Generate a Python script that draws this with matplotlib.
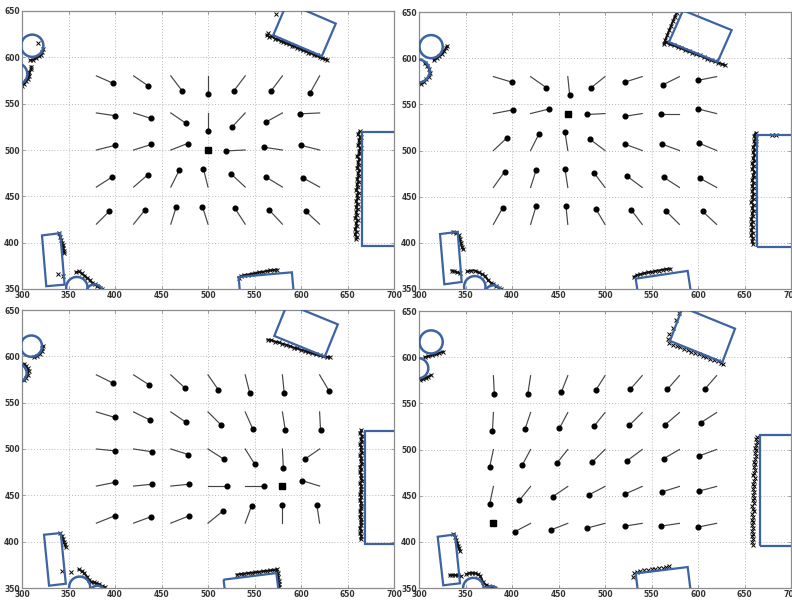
import matplotlib
matplotlib.use("Agg")
import matplotlib.pyplot as plt
from matplotlib.patches import Polygon, Circle

# ---------------------------------------------------------------- data
GRID_X = [380, 420, 460, 500, 540, 580, 620]
GRID_Y = [580, 540, 500, 460, 420]
X_TICKS = [300, 350, 400, 450, 500, 550, 600, 650, 700]
Y_TICKS = [350, 400, 450, 500, 550, 600, 650]

# goal position of each run
TARGET_A = (500, 500)
TARGET_B = (460, 540)
TARGET_C = (580, 460)
TARGET_D = (380, 420)

# particle end positions, one row per GRID_Y, one column per GRID_X
DOT_X_A = [[398, 436, 472, 500, 528, 568, 610],
           [400, 439, 476, 500, 526, 562, 599],
           [400, 439, 478, None, 519, 560, 600],
           [397, 435, 469, 495, 525, 562, 602],
           [394, 432, 466, 494, 529, 566, 605]]
DOT_Y_A = [[572, 569, 564, 560, 564, 564, 562],
           [537, 534, 529, 520, 525, 530, 539],
           [505, 506, 507, None, 499, 503, 505],
           [471, 473, 478, 480, 474, 471, 470],
           [434, 435, 439, 439, 437, 435, 434]]

DOT_X_B = [[400, 437, 462, 485, 521, 562, 600],
           [401, 440, None, 481, 521, 560, 600],
           [395, 429, 457, 484, 521, 561, 601],
           [392, 426, 457, 488, 524, 563, 602],
           [390, 426, 458, 490, 528, 566, 605]]
DOT_Y_B = [[574, 568, 560, 568, 574, 571, 576],
           [544, 545, None, 539, 537, 540, 545],
           [514, 518, 520, 512, 507, 507, 508],
           [477, 479, 480, 476, 472, 471, 470],
           [438, 440, 440, 437, 436, 434, 434]]

DOT_X_C = [[398, 437, 475, 511, 545, 582, 630],
           [400, 438, 476, 514, 548, 583, 621],
           [400, 440, 479, 517, 550, 581, 604],
           [400, 440, 480, 520, 560, None, 601],
           [400, 439, 480, 516, 547, 580, 617]]
DOT_Y_C = [[571, 569, 566, 564, 560, 560, 563],
           [534, 531, 529, 526, 522, 521, 521],
           [498, 497, 494, 489, 484, 480, 489],
           [464, 462, 462, 460, 460, None, 466],
           [428, 427, 428, 433, 439, 440, 440]]

DOT_X_D = [[381, 417, 453, 490, 527, 567, 607],
           [379, 414, 451, 488, 526, 565, 603],
           [376, 411, 448, 486, 524, 563, 601],
           [376, 408, 444, 483, 522, 561, 601],
           [None, 403, 442, 481, 521, 560, 600]]
DOT_Y_D = [[560, 560, 562, 564, 565, 565, 565],
           [520, 522, 523, 525, 526, 527, 529],
           [481, 483, 485, 486, 488, 490, 493],
           [441, 445, 449, 451, 452, 454, 455],
           [None, 411, 413, 415, 417, 417, 416]]

# obstacles: polygons (corner lists) and circles (x, y, r)
RECTS_A = [[(321.5, 407.8), (341.1, 410.3), (345.8, 354.7), (326.1, 353.0)],
           [(570.1, 623.8), (585.1, 658.9), (637.4, 636.4), (622.4, 601.3)],
           [(665.3, 396.0), (665.3, 519.8), (720.0, 519.8), (720.0, 396.0)],
           [(532.9, 363.0), (590.2, 368.0), (594.0, 325.0), (536.7, 320.0)]]
CIRCLES_A = [(311, 612.5, 12), (294, 582, 11.7), (359, 351.5, 11.5), (378, 346, 9)]

RECTS_B = [[(322.6, 409.5), (341.6, 411.9), (345.9, 357.6), (327.2, 355.1)],
           [(568.8, 617.4), (583.9, 651.8), (636.2, 630.4), (621.1, 596.0)],
           [(663.1, 395.7), (663.1, 516.3), (720.0, 516.3), (720.0, 395.7)],
           [(533.0, 361.2), (588.9, 369.6), (595.5, 325.6), (539.6, 317.2)]]
CIRCLES_B = [(313, 612.5, 12.5), (299, 586, 12.5), (360, 352.5, 11.5), (380, 345, 9)]

RECTS_C = [[(323.7, 407.5), (341.7, 409.3), (347.1, 354.6), (329.1, 352.5)],
           [(571.3, 622.0), (585.3, 656.8), (639.6, 634.5), (625.6, 599.7)],
           [(668.7, 397.8), (668.7, 519.6), (720.0, 519.6), (720.0, 397.8)],
           [(516.7, 359.0), (573.5, 366.1), (578.0, 330.1), (521.2, 323.0)]]
CIRCLES_C = [(310, 611, 11.5), (295, 582, 10), (362, 351, 11.3), (381, 344, 8.5)]

RECTS_D = [[(320.1, 405.5), (338.7, 408.0), (344.1, 355.1), (326.1, 352.9)],
           [(569.9, 617.6), (583.5, 653.9), (639.8, 630.9), (626.2, 594.6)],
           [(666.7, 395.3), (666.7, 515.8), (720.0, 515.8), (720.0, 395.3)],
           [(533.0, 365.8), (588.9, 372.7), (594.2, 329.7), (538.3, 322.8)]]
CIRCLES_D = [(313, 616.5, 12.5), (299, 588, 11), (358.4, 350, 11), (378, 344, 8)]

# laser returns
SCAN_A_WALL = [(663, 520), (661, 517), (664, 514), (662, 511), (663, 508), (661, 505), (664, 502),
               (662, 499), (663, 496), (660, 493), (663, 490), (661, 487), (662, 484), (660, 481),
               (663, 478), (661, 475), (662, 472), (660, 469), (662, 466), (660, 463), (661, 460),
               (659, 457), (662, 454), (660, 451), (661, 448), (659, 445), (661, 442), (659, 439),
               (661, 436), (659, 433), (660, 430), (658, 427), (661, 424), (659, 421), (660, 418),
               (658, 415), (660, 412), (658, 409), (660, 406), (659, 404)]
SCAN_A_TOP = [(563, 624), (566, 622), (569, 622.5), (572, 620), (575, 619.5), (578, 617.5),
              (581, 617), (584, 615), (587, 614.5), (590, 612.5), (593, 612), (596, 610),
              (599, 609.5), (602, 607.5), (605, 607), (608, 605), (611, 604.5), (614, 602.5),
              (617, 602), (620, 600), (623, 599.5), (626, 598), (628, 597.5)]
SCAN_A_C1 = [(309, 597), (312, 597.5), (315, 599), (318, 601), (320, 603), (322, 606), (323, 609)]
SCAN_A_C2 = [(310, 590), (310, 587), (308, 584), (308, 580), (306, 577), (304, 574), (302, 571), (300, 569)]
SCAN_A_BOX = [(340, 410), (341, 406), (342, 403), (343, 400), (344, 397), (344.5, 394), (345, 391), (345.5, 389)]
SCAN_A_LOW = [(358, 368), (361, 369), (364, 367), (367, 364.5), (370, 362), (373, 359.5), (375, 357),
              (378, 355), (381, 353), (384, 351), (386, 349.5)]
SCAN_A_BOT = [(533, 362), (536, 364), (539, 365), (543, 365.5), (547, 366.5), (551, 367), (555, 368),
              (559, 368.5), (563, 369.5), (567, 370), (571, 370.5), (574, 371)]
SCAN_A_LONE = [(573, 647), (565, 626.5), (317, 616), (338.6, 366), (344, 364.5)]

SCAN_B_WALL = [(662, 519), (660, 516), (662, 513), (660, 510), (662, 507), (659, 504), (661, 501),
               (659, 498), (661, 495), (659, 492), (661, 489), (658, 486), (660, 483), (658, 480),
               (661, 477), (659, 474), (660, 471), (658, 468), (660, 465), (658, 462), (660, 459),
               (658, 456), (660, 453), (658, 450), (660, 447), (657, 444), (660, 441), (658, 438),
               (660, 435), (658, 432), (659, 429), (657, 426), (659, 423), (657, 420), (659, 417),
               (657, 414), (659, 411), (657, 408), (659, 405), (658, 402), (659, 399)]
SCAN_B_TOP = [(577, 649), (575, 645), (573, 640), (571, 635), (569, 630), (567, 625), (565, 620),
              (563, 615), (566, 617), (570, 615), (574, 614), (578, 612), (582, 611), (586, 609),
              (590, 607.5), (594, 606), (598, 604.5), (602, 603), (606, 601), (610, 599.5),
              (614, 598), (618, 596.5), (622, 595), (626, 593.5), (629, 592.5)]
SCAN_B_C1 = [(316, 598), (319, 600), (322, 602.5), (325, 605), (327, 608), (329, 611), (330, 613)]
SCAN_B_C2 = [(306, 595), (309, 592), (311, 588), (312, 584), (311, 580), (308, 577), (305, 574), (302, 572)]
SCAN_B_BOX = [(337, 412), (340, 411), (343, 408), (344, 404), (345, 400), (346, 396), (347.5, 393)]
SCAN_B_BOX2 = [(335, 370), (338, 369), (341, 368), (344, 367)]
SCAN_B_LOW = [(352, 369), (356, 370), (360, 370), (364, 368), (368, 366), (371, 364), (374, 360),
              (377, 357), (380, 355), (383, 353), (386, 351), (388, 350)]
SCAN_B_BOT = [(531, 363), (534, 365), (538, 366), (542, 367), (546, 368), (550, 368.5), (554, 369.5),
              (558, 370), (562, 371), (566, 371.5), (570, 372)]
SCAN_B_LONE = [(680, 517), (684, 517)]

SCAN_C_WALL = [(665, 520), (663, 517), (666, 514), (664, 511), (666, 508), (663, 505), (665, 502),
               (664, 499), (666, 496), (663, 493), (665, 490), (664, 487), (666, 484), (663, 481),
               (665, 478), (663, 475), (665, 472), (664, 469), (666, 466), (663, 463), (665, 460),
               (664, 457), (665, 454), (663, 451), (665, 448), (663, 445), (665, 442), (664, 439),
               (665, 436), (663, 433), (665, 430), (663, 427), (665, 424), (664, 421), (665, 418),
               (663, 415), (665, 412), (663, 409), (665, 406), (664, 403)]
SCAN_C_TOP = [(564, 618), (568, 617.5), (572, 616), (576, 615), (580, 613.5), (584, 612.5),
              (588, 611), (592, 609.5), (596, 608.5), (600, 607), (604, 606), (608, 604.5),
              (612, 603.5), (616, 602), (620, 601), (624, 600), (628, 599.5), (631, 599)]
SCAN_C_C1 = [(313, 599), (316, 600.5), (319, 603), (321, 606), (322, 609), (323, 611)]
SCAN_C_C2 = [(302, 592), (304, 590), (306, 587), (307, 584), (306, 580), (304, 577), (302, 574)]
SCAN_C_BOX = [(341, 409), (343, 406), (344, 403), (345, 400), (346, 397), (347, 394)]
SCAN_C_LOW = [(361, 370), (364, 368.5), (367, 366), (370, 362), (372, 359), (374, 357), (377, 356),
              (380, 355), (383, 354), (386, 352), (389, 351)]
SCAN_C_BOT = [(531, 364.5), (535, 365), (539, 365.5), (543, 366), (547, 366.5), (551, 367),
              (555, 367.5), (559, 368), (563, 368.5), (567, 369), (571, 369.5), (574, 370.5),
              (575, 366), (575.5, 362), (576, 358), (576, 354), (576.5, 351)]
SCAN_C_LONE = [(343.5, 368), (353, 367)]

SCAN_D_WALL = [(663, 514), (662, 511), (663, 508), (662, 505), (661, 502), (662, 499), (661, 496),
               (662, 493), (661, 490), (660, 487), (661, 484), (660, 481), (661, 478), (660, 475),
               (659, 472), (661, 469), (660, 466), (659, 463), (660, 460), (659, 457), (660, 454),
               (659, 451), (660, 448), (659, 445), (660, 442), (658, 439), (659, 436), (660, 433),
               (658, 430), (659, 427), (658, 424), (659, 421), (658, 418), (659, 415), (658, 412),
               (659, 409), (658, 406), (659, 403), (658, 400), (659, 397)]
SCAN_D_TOP = [(580, 648), (576, 640), (573, 632), (569, 625), (568, 620), (569, 615), (573, 613.5),
              (577, 612), (581, 610.5), (585, 609), (589, 607.5), (593, 606), (597, 604.5),
              (601, 603), (605, 601.5), (609, 600), (613, 598.5), (617, 597), (621, 595.5),
              (625, 594), (627, 593)]
SCAN_D_C1 = [(306, 600), (310, 601), (314, 602), (318, 603), (322, 604.5), (326, 606)]
SCAN_D_C2 = [(301, 575), (304, 576), (307, 577.5), (310, 579), (313, 580.5)]
SCAN_D_BOX = [(337, 408), (339, 405), (340, 402), (341, 399), (342, 396), (343, 393), (344, 390)]
SCAN_D_BOX2 = [(333, 364), (336, 364), (339, 364), (342, 364), (345, 363)]
SCAN_D_LOW = [(351, 365), (354, 366), (357, 366.5), (360, 366), (363, 365), (366, 363), (369, 356),
              (372, 353.5), (375, 352), (378, 351), (381, 350)]
SCAN_D_BOT = [(530, 362), (531, 366), (534, 367), (538, 368), (542, 369), (546, 370), (550, 370.5),
              (554, 371), (558, 371.5), (562, 372), (566, 373), (569, 373.5)]

# ---------------------------------------------------------------- style
BLUE = "#3d63a3"
LINE = "#454545"
FRAME = "#8c8c8c"
W, H = 792, 601

fig = plt.figure(figsize=(W / 100, H / 100), dpi=100)
fig.patch.set_facecolor("white")


def make_axes(left, top, right, bottom):
    return fig.add_axes([left / W, 1 - bottom / H, (right - left) / W, (bottom - top) / H])


def draw_panel(ax, target, dot_x, dot_y, rects, circles, joined, loose, lone):
    ax.set_xlim(300, 700)
    ax.set_ylim(350, 650)
    ax.set_xticks(X_TICKS)
    ax.set_yticks(Y_TICKS)
    ax.grid(True, linestyle=(0, (1, 2)), color="#b8b8b8", linewidth=0.7)
    ax.set_axisbelow(True)
    for sp in ax.spines.values():
        sp.set_color(FRAME)
        sp.set_linewidth(0.9)
    ax.tick_params(direction="in", length=2.5, width=0.6, color=FRAME,
                   top=True, right=True, labelsize=5.5, labelcolor="#333333", pad=1.5)
    for lab in ax.get_xticklabels() + ax.get_yticklabels():
        lab.set_fontweight("bold")

    # laser returns
    for pts in joined:
        xs = [p[0] for p in pts]
        ys = [p[1] for p in pts]
        ax.plot(xs, ys, color="#111111", lw=1.5, marker="x", ms=3.3, mew=0.7, zorder=2)
    for pts in loose:
        xs = [p[0] for p in pts]
        ys = [p[1] for p in pts]
        ax.plot(xs, ys, linestyle="none", color="black", marker="x", ms=3.0, mew=0.7, zorder=2)
    if lone:
        ax.plot([p[0] for p in lone], [p[1] for p in lone], linestyle="none",
                color="black", marker="x", ms=3.2, mew=0.7, zorder=2)

    # obstacles
    for corners in rects:
        ax.add_patch(Polygon(corners, closed=True, fill=False, edgecolor=BLUE, lw=1.6, zorder=3))
    for cx, cy, r in circles:
        ax.add_patch(Circle((cx, cy), r, fill=False, edgecolor=BLUE, lw=1.8, zorder=3))

    # field of particle displacements
    for i, gy in enumerate(GRID_Y):
        for j, gx in enumerate(GRID_X):
            dx, dy = dot_x[i][j], dot_y[i][j]
            if dx is None:
                continue
            ax.plot([gx, dx], [gy, dy], color=LINE, lw=0.85, zorder=4)
            ax.plot(dx, dy, "o", color="black", ms=3.4, zorder=5)
    ax.plot(target[0], target[1], "s", color="black", ms=4.2, zorder=5)


ax_a = make_axes(22, 11, 394, 289)
ax_b = make_axes(419, 12, 791, 289)
ax_c = make_axes(22, 310, 394, 588)
ax_d = make_axes(419, 311, 791, 588)

draw_panel(ax_a, TARGET_A, DOT_X_A, DOT_Y_A, RECTS_A, CIRCLES_A,
           [SCAN_A_WALL, SCAN_A_TOP, SCAN_A_C1, SCAN_A_C2, SCAN_A_BOX, SCAN_A_LOW, SCAN_A_BOT],
           [], SCAN_A_LONE)
draw_panel(ax_b, TARGET_B, DOT_X_B, DOT_Y_B, RECTS_B, CIRCLES_B,
           [SCAN_B_WALL, SCAN_B_TOP, SCAN_B_C1, SCAN_B_C2, SCAN_B_BOX, SCAN_B_BOX2, SCAN_B_LOW, SCAN_B_BOT],
           [], SCAN_B_LONE)
draw_panel(ax_c, TARGET_C, DOT_X_C, DOT_Y_C, RECTS_C, CIRCLES_C,
           [SCAN_C_WALL, SCAN_C_TOP, SCAN_C_C1, SCAN_C_C2, SCAN_C_BOX, SCAN_C_LOW, SCAN_C_BOT],
           [], SCAN_C_LONE)
draw_panel(ax_d, TARGET_D, DOT_X_D, DOT_Y_D, RECTS_D, CIRCLES_D,
           [SCAN_D_C1, SCAN_D_C2, SCAN_D_BOX, SCAN_D_BOX2, SCAN_D_LOW],
           [SCAN_D_WALL, SCAN_D_TOP, SCAN_D_BOT], [])

fig.savefig("out.png", dpi=100, facecolor="white")
